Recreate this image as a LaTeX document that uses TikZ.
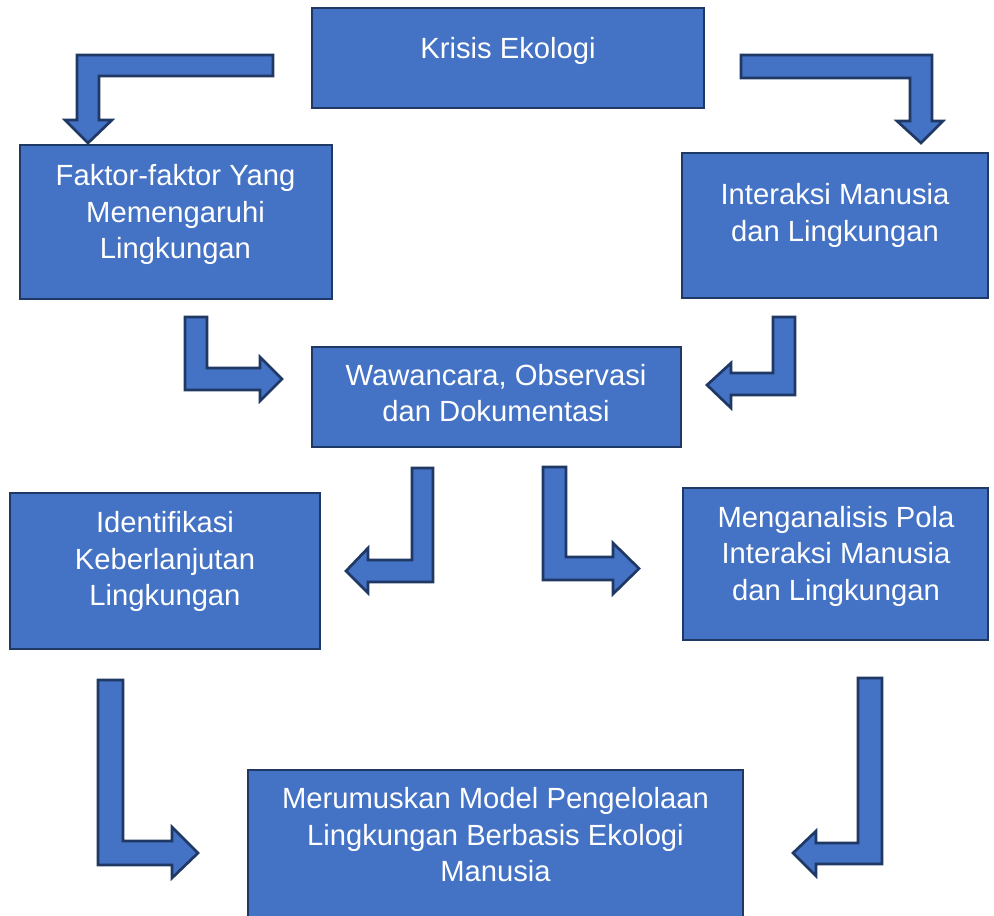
\documentclass[tikz,border=0pt]{standalone}
\usepackage{fontspec}
\setmainfont{Liberation Sans}
\usetikzlibrary{fit}
\definecolor{boxfill}{HTML}{4472C4}
\definecolor{boxline}{HTML}{1F3864}
\tikzset{
  boxst/.style={draw=boxline, fill=boxfill, line width=2pt, inner sep=0pt, rectangle},
  txt/.style={text=white, align=center, inner sep=0pt, font=\fontsize{21.9pt}{27.4pt}\selectfont},
  bentarrow/.style={draw=boxline, fill=boxfill, line width=2pt, line join=miter}
}
\begin{document}
\begin{tikzpicture}[x=0.75pt,y=-0.75pt]
\path[use as bounding box] (0,0) rectangle (994,915);
\clip (0,0) rectangle (994,915);
% boxes
\node[boxst, fit={(312,8) (704,108)}] (krisis) {};
\node[boxst, fit={(20,145) (332,299)}] (faktor) {};
\node[boxst, fit={(682,153) (988,298)}] (interaksi) {};
\node[boxst, fit={(312,347) (681,447)}] (wawancara) {};
\node[boxst, fit={(10,493) (320,649)}] (identifikasi) {};
\node[boxst, fit={(683,488) (988,640)}] (menganalisis) {};
\node[boxst, fit={(248,770) (743,930)}] (merumuskan) {};
% texts
\node[txt] (tkrisis) at (508,50.5) {Krisis Ekologi};
\node[txt] (tfaktor) at (175.5,214.5) {Faktor-faktor Yang\\Memengaruhi\\Lingkungan};
\node[txt] (tinteraksi) at (835,215.5) {Interaksi Manusia\\dan Lingkungan};
\node[txt] (twawancara) at (496,393) {Wawancara, Observasi\\dan Dokumentasi};
\node[txt] (tidentifikasi) at (165,561.5) {Identifikasi\\Keberlanjutan\\Lingkungan};
\node[txt] (tmenganalisis) at (836,556) {Menganalisis Pola\\Interaksi Manusia\\dan Lingkungan};
\node[txt] (tmerumuskan) at (495.5,835) {Merumuskan Model Pengelolaan\\Lingkungan Berbasis Ekologi\\Manusia};
% bent block arrows
\draw[bentarrow] (273,55) -- (273,76) -- (99,76) -- (99,120) -- (112,120) -- (88,143) -- (65,120) -- (77,120) -- (77,55) -- cycle;
\draw[bentarrow] (741,55) -- (932,55) -- (932,121) -- (943,121) -- (921,143) -- (897,121) -- (910,121) -- (910,78) -- (741,78) -- cycle;
\draw[bentarrow] (185,317) -- (207,317) -- (207,368) -- (260,368) -- (260,357) -- (282,379) -- (260,401) -- (260,390) -- (185,390) -- cycle;
\draw[bentarrow] (795,317) -- (773,317) -- (773,373) -- (731,373) -- (731,363) -- (707,385) -- (731,408) -- (731,395) -- (795,395) -- cycle;
\draw[bentarrow] (433,468) -- (412,468) -- (412,560) -- (368,560) -- (368,548) -- (346,571) -- (368,593) -- (368,582) -- (433,582) -- cycle;
\draw[bentarrow] (543,467) -- (566,467) -- (566,557) -- (613,557) -- (613,543) -- (639,568.5) -- (613,594) -- (613,580) -- (543,580) -- cycle;
\draw[bentarrow] (98,680) -- (123,680) -- (123,841) -- (172,841) -- (172,827) -- (198,853) -- (172,878) -- (172,865) -- (98,865) -- cycle;
\draw[bentarrow] (882,678) -- (858,678) -- (858,843) -- (816,843) -- (816,831) -- (793,853) -- (816,876) -- (816,864) -- (882,864) -- cycle;
\end{tikzpicture}
\end{document}
